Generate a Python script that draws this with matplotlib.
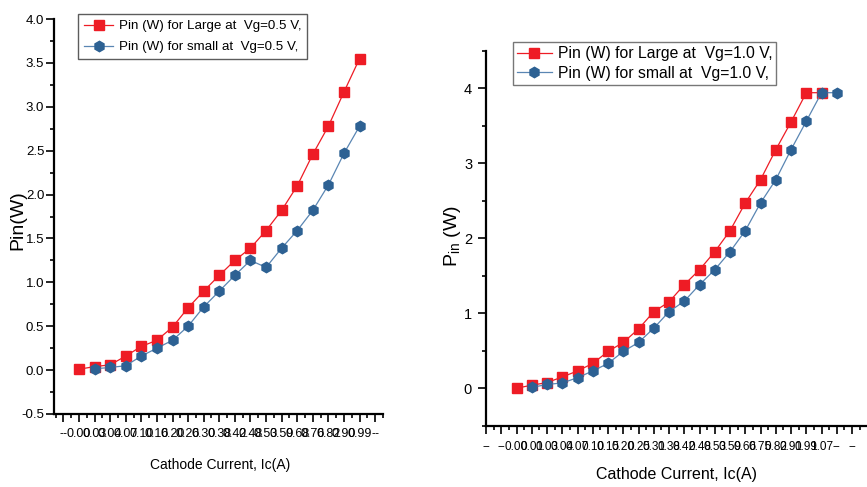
import matplotlib
matplotlib.use("Agg")
import matplotlib.pyplot as plt
from matplotlib.ticker import MultipleLocator, FixedLocator, FixedFormatter, FormatStrFormatter

plt.rcParams['font.family'] = ['Liberation Sans', 'DejaVu Sans']

# ---------------- data: left chart (Vg = 0.5 V) ----------------
left_tick_labels = ['--', '0.00', '0.03', '0.04', '0.07', '0.10', '0.16', '0.20', '0.26',
                    '0.30', '0.38', '0.42', '0.48', '0.53', '0.59', '0.68', '0.76', '0.82',
                    '0.90', '0.99', '--']
left_large = [0.01, 0.04, 0.06, 0.16, 0.27, 0.34, 0.49, 0.71, 0.90, 1.08, 1.25, 1.39,
              1.59, 1.82, 2.10, 2.46, 2.78, 3.17, 3.55]
left_small = [0.015, 0.03, 0.05, 0.16, 0.25, 0.34, 0.50, 0.72, 0.90, 1.08, 1.25, 1.17,
              1.39, 1.59, 1.82, 2.11, 2.47, 2.78]

# ---------------- data: right chart (Vg = 1.0 V) ----------------
right_tick_labels = ['--', '--', '0.00', '0.01', '0.03', '0.04', '0.07', '0.10', '0.15',
                     '0.20', '0.25', '0.31', '0.38', '0.42', '0.48', '0.53', '0.59', '0.66',
                     '0.75', '0.82', '0.91', '0.99', '1.07', '--', '--', '-']
right_large = [0.00, 0.04, 0.075, 0.15, 0.23, 0.33, 0.49, 0.61, 0.79, 1.02, 1.15, 1.38,
               1.58, 1.82, 2.10, 2.47, 2.78, 3.18, 3.55, 3.94, 3.94]
right_small = [0.01, 0.05, 0.07, 0.14, 0.23, 0.33, 0.49, 0.61, 0.80, 1.02, 1.16, 1.38,
               1.58, 1.82, 2.10, 2.47, 2.78, 3.18, 3.56, 3.94, 3.94]

RED = '#ee1c25'
BLUE_M = '#2d6193'
BLUE_L = '#5a86b3'

fig = plt.figure(figsize=(8.67, 4.87), dpi=100)


def style_axes(ax, major_len=6, minor_len=3):
    for s in ('top', 'right'):
        ax.spines[s].set_visible(False)
    for s in ('left', 'bottom'):
        ax.spines[s].set_linewidth(1.6)
        ax.spines[s].set_color('black')
    ax.tick_params(which='major', direction='out', length=major_len, width=1.2)
    ax.tick_params(which='minor', direction='out', length=minor_len, width=1.2)


# ---------------- left chart ----------------
axL = fig.add_axes([54 / 867, 1 - 414 / 487, (383 - 54) / 867, (414 - 19) / 487])
xl_large = list(range(len(left_large)))
xl_small = list(range(1, len(left_small) + 1))
axL.plot(xl_large, left_large, color=RED, lw=0.9, marker='s', ms=7, mec=RED, mfc=RED,
         label='Pin (W) for Large at  Vg=0.5 V,')
axL.plot(xl_small, left_small, color=BLUE_L, lw=0.9, marker='h', ms=7.5, mec=BLUE_M, mfc=BLUE_M,
         label='Pin (W) for small at  Vg=0.5 V,')
axL.set_xlim(-1.6, 19.5)
axL.set_ylim(-0.5, 4.0)
left_pos = list(range(-1, len(left_tick_labels) - 1))
axL.xaxis.set_major_locator(FixedLocator(left_pos))
axL.xaxis.set_major_formatter(FixedFormatter(left_tick_labels))
axL.xaxis.set_minor_locator(MultipleLocator(0.5))
axL.yaxis.set_major_locator(MultipleLocator(0.5))
axL.yaxis.set_minor_locator(MultipleLocator(0.25))
axL.yaxis.set_major_formatter(FormatStrFormatter('%.1f'))
style_axes(axL)
axL.tick_params(axis='y', labelsize=9.5, pad=1)
axL.tick_params(axis='x', labelsize=9, pad=4)
axL.set_xlabel('Cathode Current, Ic(A)', fontsize=10)
axL.xaxis.set_label_coords(0.505, -0.111)
axL.set_ylabel('Pin(W)', fontsize=14)
axL.yaxis.set_label_coords(-0.085, 0.491)
legL = axL.legend(loc='upper left', bbox_to_anchor=(0.073, 1.0127), fontsize=9.6,
                  frameon=True, fancybox=False, borderpad=0.45, handlelength=2.2,
                  handletextpad=0.4, labelspacing=0.65, borderaxespad=0)
legL.get_frame().set_edgecolor('#333333')
legL.get_frame().set_linewidth(1.0)

# ---------------- right chart ----------------
axR = fig.add_axes([486 / 867, 1 - 425.7 / 487, (867 - 486) / 867, (425.7 - 50.7) / 487])
xr_large = list(range(len(right_large)))
xr_small = list(range(1, len(right_small) + 1))
axR.plot(xr_large, right_large, color=RED, lw=0.9, marker='s', ms=7, mec=RED, mfc=RED,
         label='Pin (W) for Large at  Vg=1.0 V,')
axR.plot(xr_small, right_small, color=BLUE_L, lw=0.9, marker='h', ms=7.5, mec=BLUE_M, mfc=BLUE_M,
         label='Pin (W) for small at  Vg=1.0 V,')
axR.set_xlim(-2.0, 22.98)
axR.set_ylim(-0.5, 4.5)
right_pos = list(range(-2, len(right_tick_labels) - 2))
axR.xaxis.set_major_locator(FixedLocator(right_pos))
axR.xaxis.set_major_formatter(FixedFormatter(right_tick_labels))
axR.xaxis.set_minor_locator(MultipleLocator(0.5))
axR.yaxis.set_major_locator(MultipleLocator(1))
axR.yaxis.set_minor_locator(MultipleLocator(0.5))
style_axes(axR)
axR.tick_params(axis='y', labelsize=10.5, pad=4)
axR.tick_params(axis='x', labelsize=8.5, pad=5)
axR.set_xlabel('Cathode Current, Ic(A)', fontsize=11.5)
axR.xaxis.set_label_coords(0.501, -0.110)
axR.set_ylabel('P$_{\\mathregular{in}}$ (W)', fontsize=14)
axR.yaxis.set_label_coords(-0.060, 0.506)
legR = axR.legend(loc='upper left', bbox_to_anchor=(0.071, 1.023), fontsize=11.3,
                  frameon=True, fancybox=False, borderpad=0.25, handlelength=2.2,
                  handletextpad=0.4, labelspacing=0.3, borderaxespad=0)
legR.get_frame().set_edgecolor('#555555')
legR.get_frame().set_linewidth(1.0)

fig.savefig('out.png', dpi=100)
